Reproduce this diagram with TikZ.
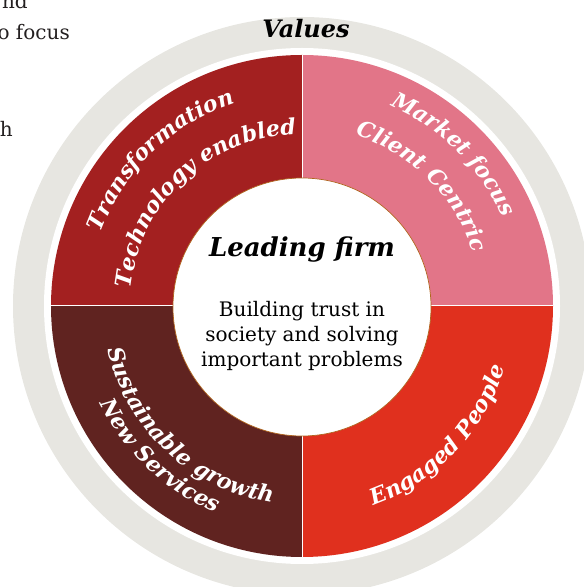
\documentclass[tikz,border=0pt]{standalone}
\usepackage{fontspec}
\setmainfont{DejaVu Serif}
\usetikzlibrary{decorations.text}
\definecolor{ringgray}{HTML}{E7E6E1}
\definecolor{qTL}{HTML}{A32020}
\definecolor{qTR}{HTML}{E27588}
\definecolor{qBR}{HTML}{E0301E}
\definecolor{qBL}{HTML}{602320}
\definecolor{coreedge}{HTML}{B0651E}
\definecolor{inktext}{HTML}{231F20}
\newcommand\lblfont{\bfseries\itshape\fontsize{22}{25}\selectfont}
\tikzset{
  cwlabel/.style={decorate, decoration={text along path, text align=center, text color=white, text={|\lblfont|#1}}},
  bodyline/.style={anchor=base, inner sep=0, font=\fontsize{20}{25}\selectfont, text=black},
  frag/.style={anchor=base east, inner sep=0, font=\fontsize{20}{25}\selectfont, text=inktext}
}
\begin{document}
\begin{tikzpicture}[x=1pt,y=1pt]
\useasboundingbox (0,0) rectangle (584,587);
\clip (0,0) rectangle (584,587);
\coordinate (C) at (302,281);
% outer ring
\fill[ringgray] (C) circle[radius=289];
\fill[white] (C) circle[radius=258];
% quadrants
\fill[qTL] (C) -- ++(180:251) arc[start angle=180,end angle=90,radius=251] -- cycle;
\fill[qTR] (C) -- ++(90:251) arc[start angle=90,end angle=0,radius=251] -- cycle;
\fill[qBR] (C) -- ++(0:251) arc[start angle=0,end angle=-90,radius=251] -- cycle;
\fill[qBL] (C) -- ++(270:251) arc[start angle=270,end angle=180,radius=251] -- cycle;
\coordinate (L) at ([xshift=-251]C);
\coordinate (R) at ([xshift=251]C);
\coordinate (T) at ([yshift=251]C);
\coordinate (B) at ([yshift=-251]C);
\draw[white, line width=1] (L) -- (R);
\draw[white, line width=1] (T) -- (B);
% core
\node[circle, fill=white, draw=coreedge, line width=0.7, minimum size=258, inner sep=0] (core) at (302,280) {};
\node[anchor=base, inner sep=0, font=\bfseries\itshape\fontsize{26}{30}\selectfont] (lead) at (302,330) {Leading firm};
\node[bodyline] (b1) at (302,270) {Building trust in};
\node[bodyline] (b2) at (302,245) {society and solving};
\node[bodyline] (b3) at (302,220) {important problems};
% values
\node[anchor=base, inner sep=0, font=\bfseries\itshape\fontsize{24}{27}\selectfont] (values) at (306,549) {Values};
% fragments of neighbouring text
\node[frag] (f1) at (28,578) {nd};
\node[frag] (f2) at (70,547) {o focus};
\node[frag] (f3) at (13,450) {h};
% curved labels
\path[cwlabel=Transformation] ([shift={(214:214)}]C) arc[start angle=214,end angle=54,radius=214];
\path[cwlabel=Technology enabled] ([shift={(213:172)}]C) arc[start angle=213,end angle=53,radius=172];
\path[cwlabel=Market focus] ([shift={(125:219)}]C) arc[start angle=125,end angle=-35,radius=219];
\path[cwlabel=Client Centric] ([shift={(125:179)}]C) arc[start angle=125,end angle=-35,radius=179];
\path[cwlabel=Sustainable growth] ([shift={(147:199)}]C) arc[start angle=147,end angle=307,radius=199];
\path[cwlabel=New Services] ([shift={(146.5:224)}]C) arc[start angle=146.5,end angle=306.5,radius=224];
\path[cwlabel=Engaged People] ([shift={(236.5:212)}]C) arc[start angle=236.5,end angle=396.5,radius=212];
\end{tikzpicture}
\end{document}
